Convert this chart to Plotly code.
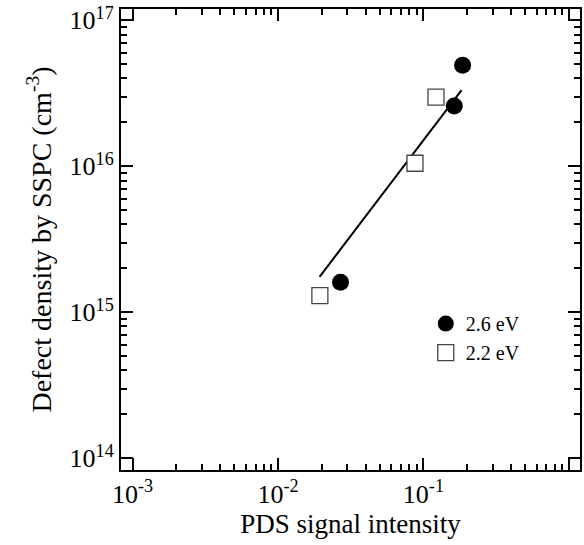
import plotly.graph_objects as go

# Data
x_26 = [0.0269, 0.163, 0.186]
y_26 = [1.61e15, 2.59e16, 4.92e16]
x_22 = [0.0194, 0.0875, 0.122]
y_22 = [1.30e15, 1.05e16, 2.98e16]
fit_x = [0.0193, 0.183]
fit_y = [1.75e15, 3.33e16]

x_tickvals = [1e-3, 1e-2, 1e-1, 1e0]
x_ticktext = ["10<sup>-3</sup>", "10<sup>-2</sup>", "10<sup>-1</sup>", "10<sup>0</sup>"]
y_tickvals = [1e14, 1e15, 1e16, 1e17]
y_ticktext = ["10<sup>14</sup>", "10<sup>15</sup>", "10<sup>16</sup>", "10<sup>17</sup>"]

x_minor = [m * 10.0**d for d in range(-3, 0) for m in range(2, 10)]
y_minor = [m * 10.0**d for d in range(14, 17) for m in range(2, 10)]

FONT = "Liberation Serif"
XR = [-3.08, 0.077]
YR = [13.92, 17.078]

fig = go.Figure()
fig.add_trace(go.Scatter(x=fit_x, y=fit_y, mode="lines",
                         line=dict(color="black", width=2), showlegend=False))
fig.add_trace(go.Scatter(x=x_26, y=y_26, mode="markers", name="2.6 eV",
                         marker=dict(symbol="circle", size=17, color="black",
                                     line=dict(width=0))))
fig.add_trace(go.Scatter(x=x_22, y=y_22, mode="markers", name="2.2 eV",
                         marker=dict(symbol="square", size=16, color="white",
                                     line=dict(width=1.3, color="#444"))))
# helper trace so the minor-tick overlay axes are drawn
fig.add_trace(go.Scatter(x=[None], y=[None], xaxis="x2", yaxis="y2",
                         mode="markers", showlegend=False, hoverinfo="skip"))

minor_common = dict(
    type="log", showgrid=False, zeroline=False, automargin=False,
    showline=False, tickmode="array", ticks="inside", ticklen=6,
    tickwidth=2, tickcolor="black", showticklabels=False, mirror="ticks",
)

fig.update_layout(
    xaxis=dict(
        type="log", range=XR, showgrid=False, zeroline=False, automargin=False,
        showline=True, linecolor="black", linewidth=2, mirror="ticks",
        ticks="inside", ticklen=12, tickwidth=2, tickcolor="black",
        tickmode="array", tickvals=x_tickvals, ticktext=x_ticktext,
        tickfont=dict(family=FONT, size=26, color="black"),
        title=dict(text="PDS signal intensity",
                   font=dict(family=FONT, size=27, color="black"), standoff=6),
    ),
    yaxis=dict(
        type="log", range=YR, showgrid=False, zeroline=False, automargin=False,
        showline=True, linecolor="black", linewidth=2, mirror="ticks",
        ticks="inside", ticklen=12, tickwidth=2, tickcolor="black",
        tickmode="array", tickvals=y_tickvals, ticktext=y_ticktext,
        tickfont=dict(family=FONT, size=26, color="black"),
        title=dict(text="Defect density by SSPC (cm<sup>-3</sup>)",
                   font=dict(family=FONT, size=28, color="black"), standoff=10),
    ),
    xaxis2=dict(**minor_common, range=XR, overlaying="x", anchor="y2",
                tickvals=x_minor),
    yaxis2=dict(**minor_common, range=YR, overlaying="y", anchor="x2",
                tickvals=y_minor),
    width=584, height=545,
    margin=dict(l=121, r=4, t=9, b=75),
    plot_bgcolor="white", paper_bgcolor="white",
    legend=dict(x=0.664, y=0.36, xanchor="left", yanchor="top",
                font=dict(family=FONT, size=20, color="black"),
                bgcolor="rgba(0,0,0,0)", itemsizing="trace",
                tracegroupgap=0),
    font=dict(family=FONT),
    showlegend=True,
)

fig.write_html("out.html", config={"displayModeBar": False},
               post_script="document.body.style.margin='0';document.body.style.overflow='hidden';")
